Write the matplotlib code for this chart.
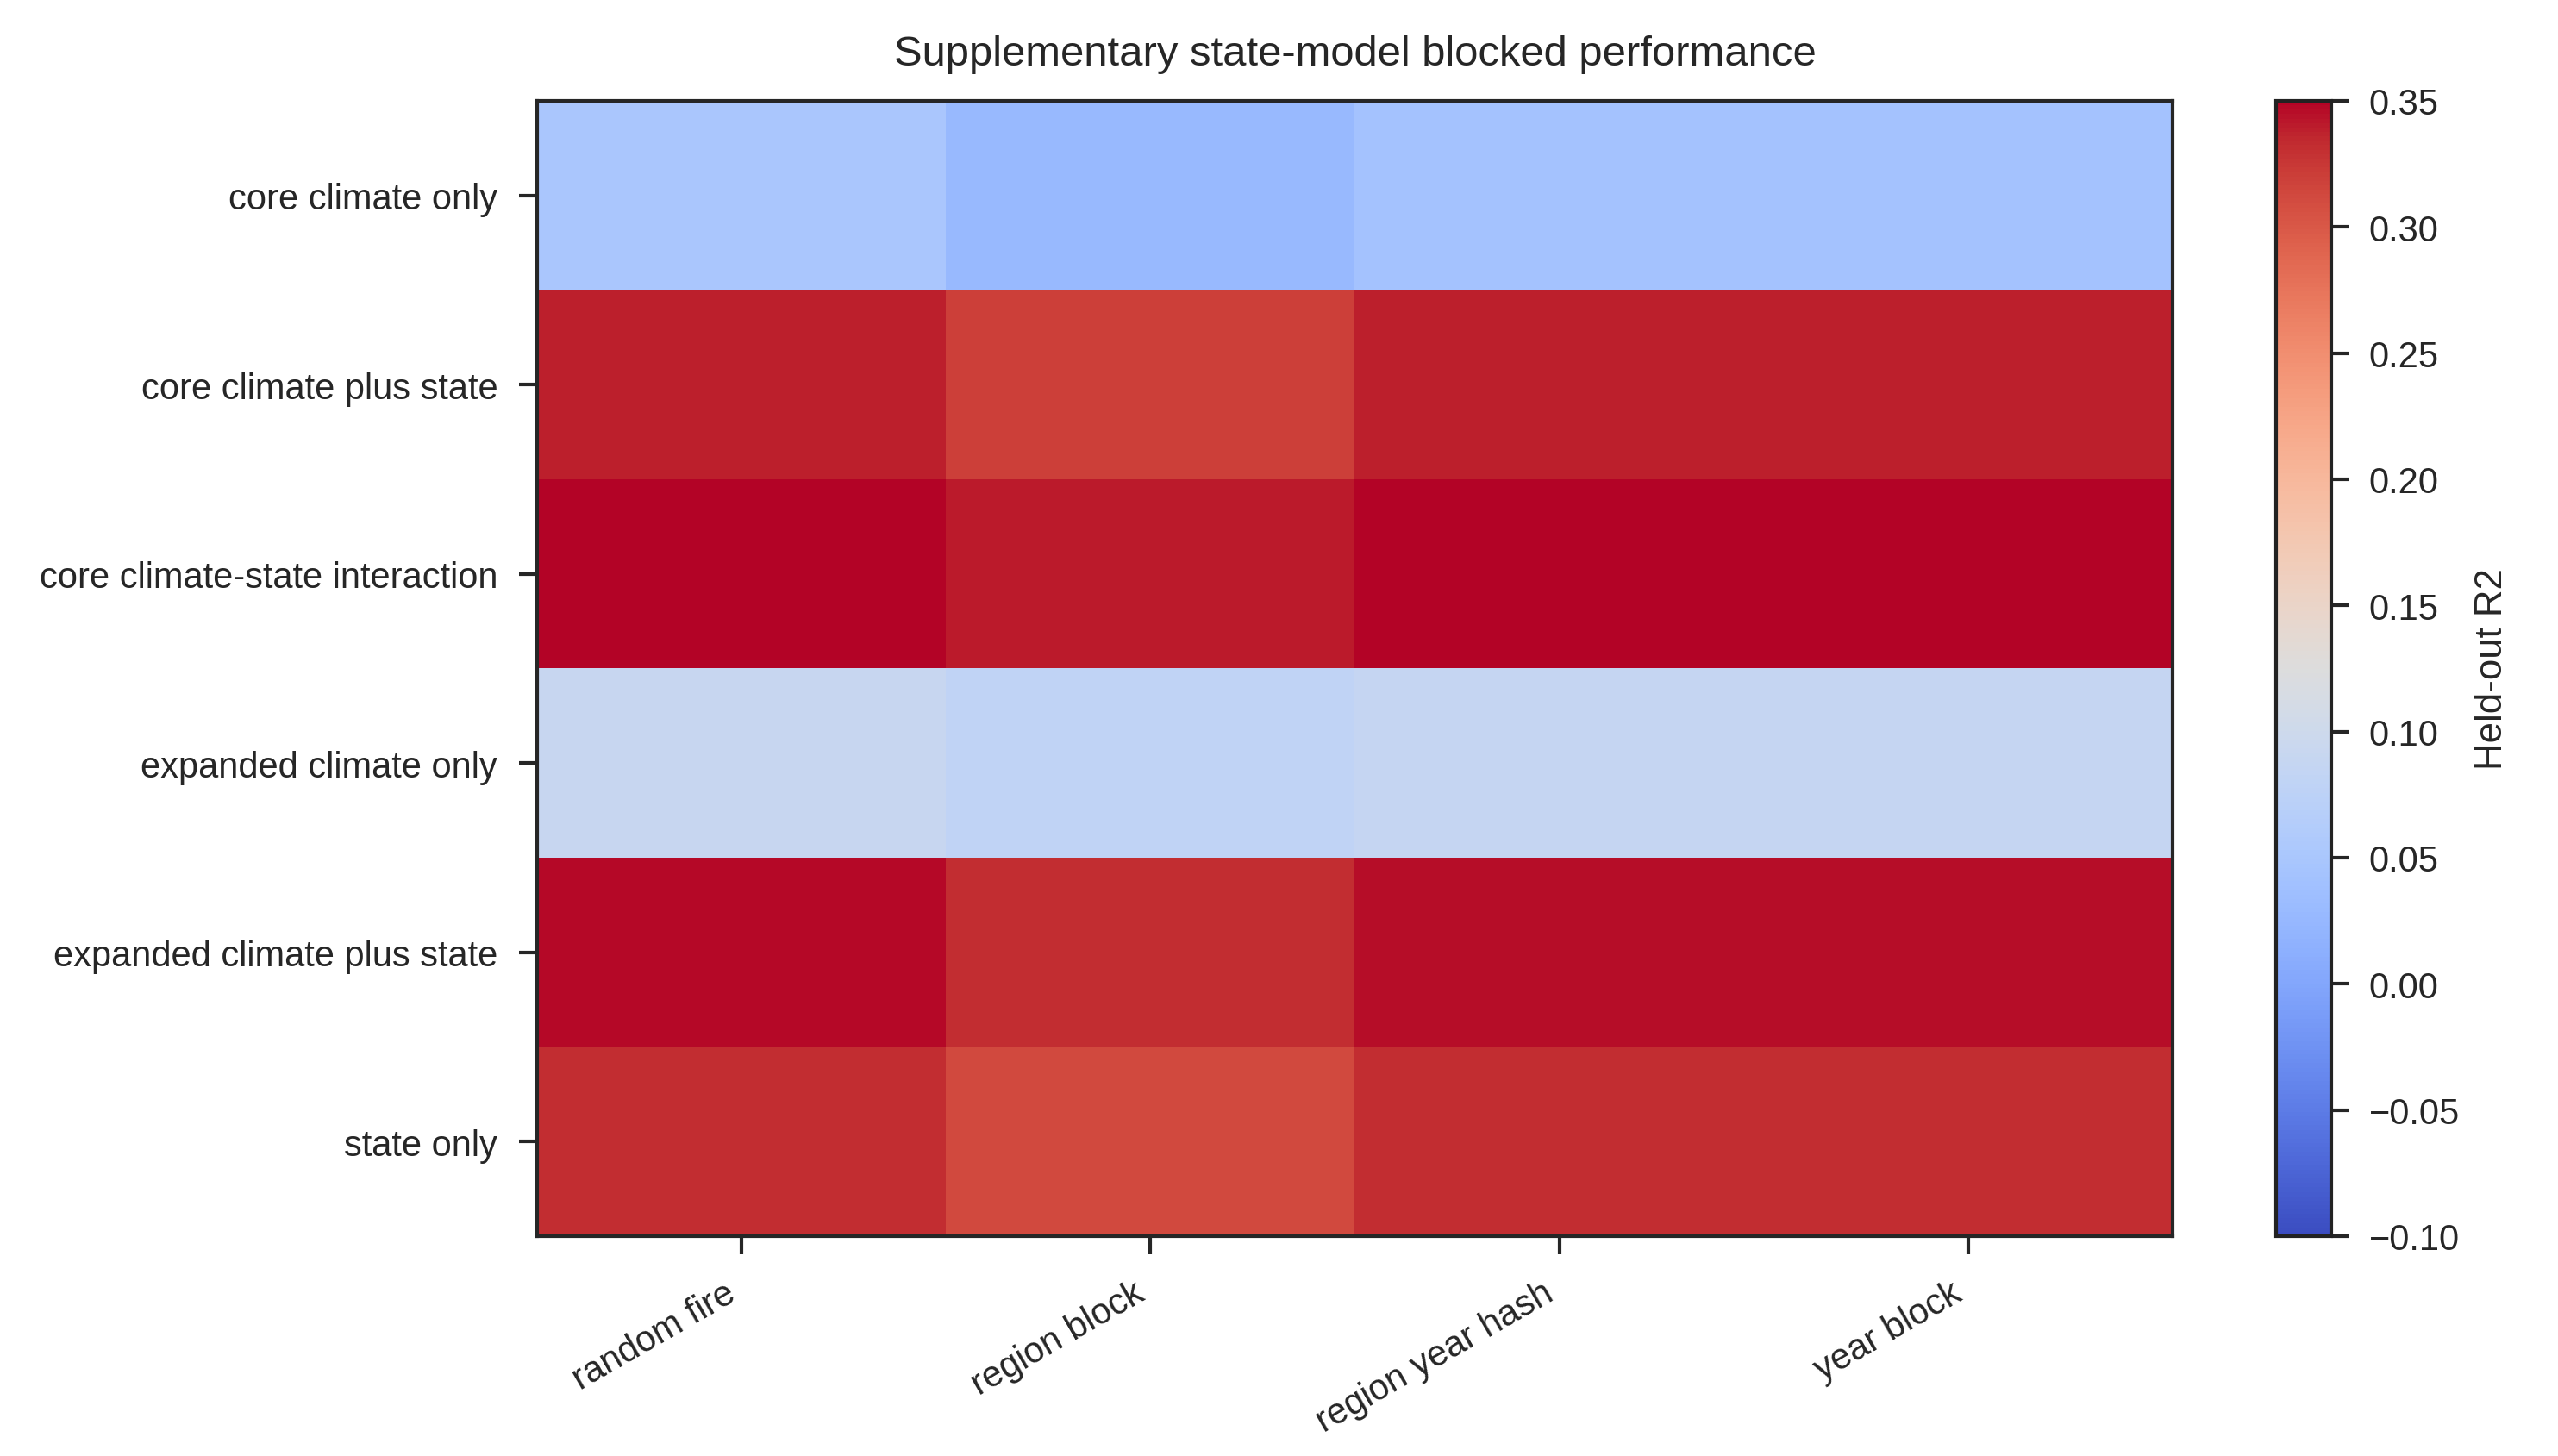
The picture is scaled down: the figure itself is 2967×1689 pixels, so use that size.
import numpy as np
import matplotlib
matplotlib.use("Agg")
import matplotlib.pyplot as plt
import seaborn as sns

models = [
    "core climate only",
    "core climate plus state",
    "core climate-state interaction",
    "expanded climate only",
    "expanded climate plus state",
    "state only",
]
schemes = ["random fire", "region block", "region year hash", "year block"]

# held-out R2, one row per model, one column per blocking scheme
core_only = [0.050, 0.027, 0.044, 0.044]
core_plus_state = [0.338, 0.320, 0.338, 0.338]
core_interaction = [0.349, 0.341, 0.349, 0.349]
expanded_only = [0.090, 0.081, 0.088, 0.088]
expanded_plus_state = [0.347, 0.331, 0.345, 0.345]
state_only = [0.331, 0.312, 0.331, 0.332]

r2 = np.array([core_only, core_plus_state, core_interaction,
               expanded_only, expanded_plus_state, state_only])

sns.set_style("ticks")
plt.rcParams['font.family'] = ['Liberation Sans', 'DejaVu Sans']
plt.rcParams['axes.linewidth'] = 1.0
for a in ('xtick', 'ytick'):
    plt.rcParams[f'{a}.major.size'] = 5
    plt.rcParams[f'{a}.major.width'] = 1.0
    plt.rcParams[f'{a}.major.pad'] = 6

fig = plt.figure(figsize=(9.89, 5.633), dpi=300)
ax = fig.add_axes([0.21, 0.1509, 0.6393, 0.7793])
cax = fig.add_axes([0.8898, 0.1509, 0.0216, 0.7793])

im = ax.imshow(r2, cmap="coolwarm", vmin=-0.10, vmax=0.35, aspect="auto",
               interpolation="nearest")
ax.set_xticks(range(len(schemes)))
ax.set_xticklabels(schemes, rotation=30, ha="right", fontsize=10)
ax.set_yticks(range(len(models)))
ax.set_yticklabels(models, fontsize=10)
ax.set_title("Supplementary state-model blocked performance", fontsize=11.75, pad=10)

cb = fig.colorbar(im, cax=cax)
cb.set_label("Held-out R2", fontsize=10.5)
cb.set_ticks(np.arange(-0.10, 0.351, 0.05))
cb.ax.tick_params(labelsize=10, pad=5.5)
cb.outline.set_edgecolor("#222222")
cb.outline.set_linewidth(1.0)

fig.savefig("out.png", dpi=300)
